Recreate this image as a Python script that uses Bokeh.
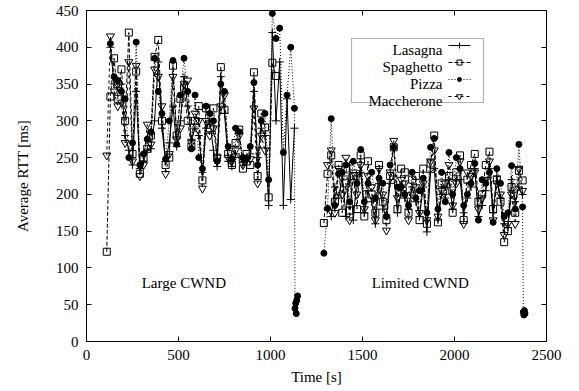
import math
from bokeh.plotting import figure
from bokeh.models import Range1d, LinearAxis, FixedTicker, Label, BoxAnnotation
from bokeh.embed import file_html
from bokeh.resources import INLINE

nan = float("nan")

# ---------------- data ----------------
t_large = list(range(110, 1131, 20))
t_limited = list(range(1290, 2371, 20))

lasagna_large = [nan, 400, 350, 345, 350, 280, 260, 240, 340, 235,
                 245, 260, 262, 300, 380, 290, 245, 270, 320, 265,
                 300, 360, 320, 275, 290, 280, 230, 290, 300, 260,
                 238, 360, 310, 245, 238, 255, 250, 245, 240, 255,
                 340, 250, 290, 280, 185, 420, 300, 380, 185, 330,
                 193, 290]
spaghetto_large = [122, 333, 385, 330, 370, 300, 420, 255, 367, 228,
                   250, 262, 280, 387, 410, 300, 240, 250, 375, 280,
                   330, 345, 300, 265, 300, 320, 219, 317, 290, 317,
                   250, 373, 315, 255, 240, 270, 288, 235, 255, 240,
                   366, 225, 310, 291, 196, 379, 361, nan, nan, nan,
                   nan, nan]
pizza_large = [nan, 405, 360, 355, 340, 330, 250, 270, 407, 240,
               255, 275, 285, 385, 340, 310, 248, 300, 382, 268,
               335, 385, 340, 262, 335, 250, 235, 320, 310, 300,
               245, 350, 340, 265, 248, 290, 285, 250, 248, 265,
               352, 240, 300, 310, 220, 446, 412, 426, 257, 335,
               400, 317]
pizza_large_tail_t = [1133, 1137, 1140, 1143, 1147]
pizza_large_tail = [45, 52, 38, 56, 62]
maccherone_large = [253, 415, 340, 320, 325, 270, 380, 245, 375, 225,
                    240, 295, 268, 370, 360, 320, 228, 255, 360, 275,
                    290, 350, 355, 270, 310, 300, 208, 300, 280, 290,
                    250, 320, 335, 250, 245, 260, 280, 240, 250, 248,
                    317, 215, 280, 260, nan, nan, nan, nan, nan, nan,
                    nan, nan]

lasagna_limited = [nan, 180, 170, 210, 195, 225, 170, 240, 165, 225,
                   230, 175, 205, 190, 160, 215, 180, 172, 215, 225,
                   175, 205, 195, 180, 210, 190, 170, 210, 149, 230,
                   235, 165, 200, 195, 220, 180, 220, 220, 175, 195,
                   210, 235, 170, 185, 205, 235, 175, 225, 195, 160,
                   155, 220, 190, 210, 200]
spaghetto_limited = [161, 228, 253, 190, 240, 175, 215, 178, 225, 180,
                     253, 170, 245, 200, 175, 240, 190, 165, 225, 264,
                     180, 235, 230, 175, 220, 225, 165, 235, 160, 242,
                     280, 162, 215, 205, 225, 175, 230, 253, 165, 220,
                     240, 255, 190, 200, 240, 258, 180, 220, 190, 135,
                     150, 210, 175, 232, 219]
pizza_limited = [120, 181, 303, 185, 228, 230, 240, 190, 245, 215,
                 261, 190, 215, 230, 195, 222, 215, 170, 240, 264,
                 210, 210, 200, 185, 230, 195, 205, 222, 175, 264,
                 276, 180, 230, 190, 257, 200, 250, 235, 185, 200,
                 215, 242, 165, 220, 215, 230, 162, 235, 215, 170,
                 175, 239, 180, 268, 183]
pizza_limited_tail_t = [2374, 2377, 2380, 2383]
pizza_limited_tail = [40, 36, 42, 38]
maccherone_limited = [nan, 240, 260, 175, 235, 200, 250, 165, 230, 200,
                      240, 180, 225, 210, 165, 235, 200, 151, 230, 273,
                      195, 220, 215, 165, 200, 210, 175, 215, 165, 245,
                      260, 170, 205, 215, 240, 185, 215, 245, 160, 230,
                      225, 230, 180, 195, 220, 245, 165, 215, 200, 145,
                      160, 200, 160, 235, 205]

series_names = ["Lasagna", "Spaghetto", "Pizza", "Maccherone"]
x_ticks = [0, 500, 1000, 1500, 2000, 2500]
y_ticks = [0, 50, 100, 150, 200, 250, 300, 350, 400, 450]
region_labels = ["Large CWND", "Limited CWND"]
region_label_x = [300, 1550]
region_label_y = [80, 80]

# ---------------- figure ----------------
FONT = "Liberation Serif"
FS = "15px"

p = figure(width=579, height=391, output_backend="svg", toolbar_location=None,
           x_range=Range1d(0, 2500), y_range=Range1d(0, 450),
           min_border_left=86, min_border_right=33, min_border_top=10,
           min_border_bottom=50, x_axis_label="Time [s]",
           y_axis_label="Average RTT [ms]")
p.outline_line_color = "black"
p.outline_line_width = 1
p.grid.visible = False
p.background_fill_color = "white"
p.border_fill_color = "white"

for ax in p.xaxis + p.yaxis:
    ax.major_tick_in = 5
    ax.major_tick_out = 0
    ax.minor_tick_line_color = None
    ax.major_label_text_font = FONT
    ax.major_label_text_font_size = FS
    ax.axis_label_text_font = FONT
    ax.axis_label_text_font_size = FS
    ax.axis_label_text_font_style = "normal"
    ax.axis_label_text_color = "black"
    ax.axis_line_color = "black"
    ax.major_tick_line_color = "black"
    ax.major_label_text_color = "black"
p.xaxis.ticker = FixedTicker(ticks=x_ticks)
p.yaxis.ticker = FixedTicker(ticks=y_ticks)
p.xaxis.major_label_standoff = 8
p.xaxis.axis_label_standoff = 6
p.yaxis.major_label_standoff = 8
p.yaxis.axis_label_standoff = 22

# mirrored inward ticks on top and right (no labels)
top_ax = LinearAxis(ticker=FixedTicker(ticks=x_ticks), major_tick_in=5, major_tick_out=0,
                    minor_tick_line_color=None, major_label_text_font_size="1px",
                    major_label_text_color=None, major_label_standoff=0,
                    major_tick_line_color="black", axis_line_color="black")
right_ax = LinearAxis(ticker=FixedTicker(ticks=y_ticks), major_tick_in=5, major_tick_out=0,
                      minor_tick_line_color=None, major_label_text_font_size="1px",
                      major_label_text_color=None, major_label_standoff=0,
                      major_tick_line_color="black", axis_line_color="black")
p.add_layout(top_ax, "above")
p.add_layout(right_ax, "right")

styles = {
    "Lasagna": dict(dash="solid", marker="cross", size=8, fill=None),
    "Spaghetto": dict(dash="4 2", marker="square", size=7, fill=None),
    "Pizza": dict(dash="1 2", marker="circle", size=6, fill="black"),
    "Maccherone": dict(dash="3 3", marker="inverted_triangle", size=8, fill=None),
}

data = {
    "Lasagna": (t_large + [nan] + t_limited,
                lasagna_large + [nan] + lasagna_limited),
    "Spaghetto": (t_large + [nan] + t_limited,
                  spaghetto_large + [nan] + spaghetto_limited),
    "Pizza": (t_large + pizza_large_tail_t + [nan] + t_limited + pizza_limited_tail_t,
              pizza_large + pizza_large_tail + [nan] + pizza_limited + pizza_limited_tail),
    "Maccherone": (t_large + [nan] + t_limited,
                   maccherone_large + [nan] + maccherone_limited),
}

for name in series_names:
    xs, ys = data[name]
    st = styles[name]
    p.line(xs, ys, line_color="black", line_width=1, line_dash=st["dash"])
    px = [a for a, b in zip(xs, ys) if not (math.isnan(a) or math.isnan(b))]
    py = [b for a, b in zip(xs, ys) if not (math.isnan(a) or math.isnan(b))]
    p.scatter(px, py, marker=st["marker"], size=st["size"], line_color="black",
              line_width=1, fill_color=st["fill"])

for txt, lx, ly in zip(region_labels, region_label_x, region_label_y):
    p.add_layout(Label(x=lx, y=ly, text=txt, text_font=FONT, text_font_size=FS,
                       text_align="left", text_baseline="middle", text_color="black"))

# ---------------- legend (gnuplot style: text left, sample right) ----------------
p.extra_x_ranges = {"leg": Range1d(86, 546)}
p.extra_y_ranges = {"leg": Range1d(341, 10)}
p.add_layout(BoxAnnotation(left=351, right=483, top=38, bottom=102,
                           x_range_name="leg", y_range_name="leg",
                           fill_color=None, line_color="black", line_width=1.2))
leg_base = [49, 66, 83, 100]
for name, yb in zip(series_names, leg_base):
    st = styles[name]
    p.add_layout(Label(x=442, y=yb, text=name, text_font=FONT, text_font_size=FS,
                       text_align="right", text_baseline="alphabetic", text_color="black",
                       x_range_name="leg", y_range_name="leg"))
    p.line([448, 470], [yb - 4, yb - 4], line_color="black", line_width=1,
           line_dash=st["dash"], x_range_name="leg", y_range_name="leg")
    p.scatter([459], [yb - 4], marker=st["marker"], size=st["size"] - 2, line_color="black",
              line_width=1, fill_color=st["fill"], x_range_name="leg", y_range_name="leg")

open("out.html", "w").write(file_html(p, INLINE))
